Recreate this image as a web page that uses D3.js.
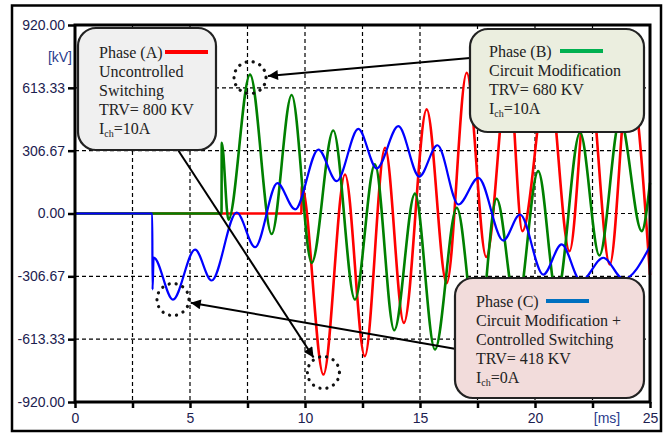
<!DOCTYPE html>
<html>
<head>
<meta charset="utf-8">
<script src="https://cdn.jsdelivr.net/npm/d3@7"></script>
<style>
body { margin: 0; background: #fff; }
svg { display: block; }
</style>
</head>
<body>
<div id="chart"></div>
<script>
// Turning points of each trace: time [ms], voltage [kV]
const timeA = [0, 9.84, 9.86, 10.8, 11.74, 12.6, 13.48, 14.3, 15.29, 16.16, 17.03, 17.88, 18.85, 19.45, 20.56, 21.5, 22.32, 23.25, 24.08, 25];
const voltA = [0, 0, 134, -786, 190, -697, 321, -534, 508, -340, 687, -212, 712, -86, 695, -184, 705, -249, 690, -300];

const timeB = [0, 6.37, 6.38, 6.67, 7.61, 8.55, 9.42, 10.29, 11.23, 12.17, 13.04, 13.88, 14.78, 15.65, 16.6, 17.5, 18.33, 19.2, 20.14, 20.95, 21.96, 22.8, 23.7, 24.64, 25];
const voltB = [0, 0, 345, -30, 678, -100, 578, -241, 405, -420, 240, -570, 97, -664, 28, -640, 72, -480, 207, -400, 395, -205, 460, -86, 150];

const timeC = [0, 3.36, 3.37, 3.42, 4.26, 5.22, 5.94, 7.03, 7.83, 8.8, 9.57, 10.58, 11.38, 12.32, 13.12, 14.06, 14.97, 15.76, 16.67, 17.54, 18.62, 19.35, 20.36, 21.16, 22.0, 22.97, 23.85, 25];
const voltC = [0, 0, -371, -215, -420, -176, -327, 5, -164, 148, 20, 312, 158, 413, 220, 426, 180, 333, 44, 174, -132, -5, -298, -151, -330, -216, -320, -160];

const xTicks = [0, 2.5, 5, 7.5, 10, 12.5, 15, 17.5, 20, 22.5, 25];
const xLabelTicks = [0, 5, 10, 15, 20, 25];
const yTicks = [-920, -613.33, -306.67, 0, 306.67, 613.33, 920];

const textA = ["Phase (A)", "Uncontrolled", "Switching", "TRV= 800 KV", "I_ch=10A"];
const textB = ["Phase (B)", "Circuit Modification", "TRV= 680 KV", "I_ch=10A"];
const textC = ["Phase (C)", "Circuit Modification +", "Controlled Switching", "TRV= 418 KV", "I_ch=0A"];

const width = 671;
const height = 437;

const svg = d3.select("#chart")
    .append("svg")
    .attr("width", width)
    .attr("height", height);

// outer frame
svg.append("rect")
    .attr("x", 12).attr("y", 5.5)
    .attr("width", 649).attr("height", 425.5)
    .attr("fill", "none").attr("stroke", "#000").attr("stroke-width", 2.5);

const x = d3.scaleLinear().domain([0, 25]).range([75, 650]);
const y = d3.scaleLinear().domain([-920, 920]).range([402, 25]);

// dashed grid
svg.append("g").selectAll("line")
    .data(xTicks.filter(d => d > 0 && d < 25))
    .enter().append("line")
    .attr("x1", d => x(d)).attr("x2", d => x(d))
    .attr("y1", y(920)).attr("y2", y(-920))
    .attr("stroke", "#000").attr("stroke-width", 1.2).attr("stroke-dasharray", "4,3");
svg.append("g").selectAll("line")
    .data(yTicks.filter(d => Math.abs(d) < 900))
    .enter().append("line")
    .attr("x1", x(0)).attr("x2", x(25))
    .attr("y1", d => y(d)).attr("y2", d => y(d))
    .attr("stroke", "#000").attr("stroke-width", 1.2).attr("stroke-dasharray", "4,3");

// axes
const labelColor = "#1c2150";
const yAxis = svg.append("g")
    .attr("transform", `translate(${x(0)},0)`)
    .call(d3.axisLeft(y).tickValues(yTicks).tickSize(7).tickPadding(3)
        .tickFormat(d => d.toFixed(2)));
const xAxis = svg.append("g")
    .attr("transform", `translate(0,${y(-920)})`)
    .call(d3.axisBottom(x).tickValues(xTicks).tickSize(6).tickPadding(5)
        .tickFormat(d => xLabelTicks.includes(d) ? d : ""));
[yAxis, xAxis].forEach(g => {
    g.select(".domain").remove();
    g.selectAll(".tick line").attr("stroke", "#000").attr("stroke-width", 2.5);
    g.selectAll("text")
        .attr("fill", labelColor)
        .style("font-family", "'Liberation Sans', Arial, sans-serif")
        .style("font-size", "14px");
});

svg.append("text")
    .attr("x", 72).attr("y", 62)
    .attr("text-anchor", "end")
    .attr("fill", "#2b3c8c")
    .style("font-family", "'Liberation Sans', Arial, sans-serif")
    .style("font-size", "14px")
    .text("[kV]");
svg.append("text")
    .attr("x", 607).attr("y", 423)
    .attr("text-anchor", "middle")
    .attr("fill", "#2b3c8c")
    .style("font-family", "'Liberation Sans', Arial, sans-serif")
    .style("font-size", "14px")
    .text("[ms]");

// traces
const line = d3.line()
    .x(d => x(d[0]))
    .y(d => y(d[1]))
    .curve(d3.curveMonotoneX);

const traces = [
    {t: timeA, v: voltA, color: "#ff0000", w: 2.6},
    {t: timeB, v: voltB, color: "#008000", w: 2.6},
    {t: timeC, v: voltC, color: "#0000ff", w: 2.2}
];
svg.append("g").selectAll("path")
    .data(traces)
    .enter().append("path")
    .attr("d", d => line(d3.zip(d.t, d.v)))
    .attr("fill", "none")
    .attr("stroke", d => d.color)
    .attr("stroke-width", d => d.w)
    .attr("stroke-linejoin", "round");

// plot frame
svg.append("rect")
    .attr("x", x(0)).attr("y", y(920))
    .attr("width", x(25) - x(0)).attr("height", y(-920) - y(920))
    .attr("fill", "none").attr("stroke", "#000").attr("stroke-width", 3);

// dotted circles round the peaks, arrows from the callouts
svg.append("defs").append("marker")
    .attr("id", "head")
    .attr("viewBox", "0 0 10 10")
    .attr("refX", 10).attr("refY", 5)
    .attr("markerWidth", 6).attr("markerHeight", 5)
    .attr("markerUnits", "strokeWidth")
    .attr("orient", "auto")
    .append("path").attr("d", "M0,0L10,5L0,10z").attr("fill", "#000");

const marks = [
    {t: 10.8, v: -786, dy: -2, from: [178, 150]},
    {t: 7.61, v: 678, dy: 3, from: [470, 58]},
    {t: 4.26, v: -420, dy: 0, from: [456, 349]}
];
marks.forEach(m => {
    const cx = x(m.t), cy = y(m.v) + m.dy, r = 16;
    svg.append("circle")
        .attr("cx", cx).attr("cy", cy).attr("r", r)
        .attr("fill", "none").attr("stroke", "#111")
        .attr("stroke-width", 3.2).attr("stroke-linecap", "round")
        .attr("stroke-dasharray", "0.1,7");
    const dx = m.from[0] - cx, dy = m.from[1] - cy;
    const len = Math.hypot(dx, dy);
    svg.append("line")
        .attr("x1", m.from[0]).attr("y1", m.from[1])
        .attr("x2", cx + dx / len * (r + 2)).attr("y2", cy + dy / len * (r + 2))
        .attr("stroke", "#000").attr("stroke-width", 2)
        .attr("marker-end", "url(#head)");
});

// callout boxes
function callout(box, lines, fill, keyColor) {
    const g = svg.append("g");
    g.append("rect")
        .attr("x", box.x).attr("y", box.y)
        .attr("width", box.w).attr("height", box.h)
        .attr("rx", 18).attr("ry", 18)
        .attr("fill", fill).attr("stroke", "#222").attr("stroke-width", 2.2);
    lines.forEach((s, i) => {
        const t = g.append("text")
            .attr("x", box.tx).attr("y", box.ty + i * 19)
            .attr("fill", "#222")
            .style("font-family", "'Liberation Serif', 'Times New Roman', serif")
            .style("font-size", "16px");
        if (s.startsWith("I_ch")) {
            t.append("tspan").text("I");
            t.append("tspan").attr("dy", 3).style("font-size", "10px").text("ch");
            t.append("tspan").attr("dy", -3).text(s.slice(4));
        } else {
            t.text(s);
        }
    });
    g.append("line")
        .attr("x1", box.kx).attr("x2", box.kx + 43)
        .attr("y1", box.ty - 6).attr("y2", box.ty - 6)
        .attr("stroke", keyColor).attr("stroke-width", 4);
}

callout({x: 78, y: 28, w: 138, h: 122, tx: 99, ty: 58, kx: 165}, textA, "#f0f0f0", "#ff0000");
callout({x: 470, y: 29, w: 174, h: 103, tx: 489, ty: 57, kx: 560}, textB, "#ebeedf", "#00b050");
callout({x: 455, y: 278, w: 189, h: 120, tx: 476, ty: 307, kx: 546}, textC, "#f2dcdb", "#0070c0");
</script>
</body>
</html>
